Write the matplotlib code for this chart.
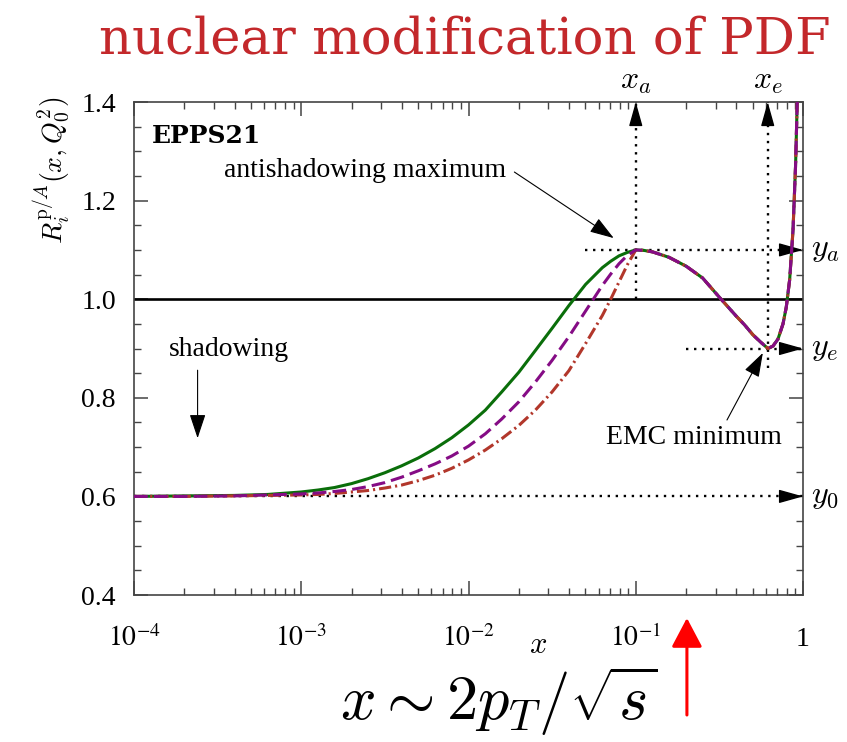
import matplotlib
matplotlib.use("Agg")
import matplotlib.pyplot as plt
from matplotlib.ticker import NullFormatter, FixedLocator
from matplotlib.patches import FancyArrowPatch

plt.rcParams['font.family'] = ['Liberation Serif', 'DejaVu Serif']
plt.rcParams['mathtext.fontset'] = 'stix'

# curves, shared x grid up to the antishadowing peak
x_rise = [1e-4, 2.0e-4, 3.98e-4, 6.31e-4, 1e-3, 1.26e-3, 1.58e-3, 2.0e-3, 2.51e-3,
          3.16e-3, 3.98e-3, 5.01e-3, 6.31e-3, 7.94e-3, 0.01, 0.0126, 0.0158, 0.02,
          0.0251, 0.0316, 0.0398, 0.0501, 0.0631, 0.0708, 0.0794, 0.0891, 0.1]
green_y = [0.600, 0.601, 0.602, 0.604, 0.609, 0.613, 0.618, 0.626, 0.636,
           0.648, 0.662, 0.678, 0.697, 0.719, 0.745, 0.775, 0.812, 0.852,
           0.896, 0.941, 0.987, 1.030, 1.064, 1.077, 1.088, 1.095, 1.100]
purple_y = [0.600, 0.600, 0.601, 0.603, 0.605, 0.607, 0.610, 0.614, 0.620,
            0.628, 0.639, 0.652, 0.666, 0.682, 0.702, 0.727, 0.757, 0.792,
            0.832, 0.876, 0.924, 0.976, 1.028, 1.051, 1.072, 1.089, 1.100]
brown_y = [0.600, 0.600, 0.601, 0.602, 0.603, 0.604, 0.606, 0.609, 0.612,
           0.617, 0.623, 0.632, 0.643, 0.657, 0.674, 0.694, 0.717, 0.744,
           0.775, 0.812, 0.855, 0.910, 0.967, 1.000, 1.035, 1.070, 1.100]

# common part beyond the peak (all three curves coincide)
tail_x = [0.112, 0.126, 0.158, 0.200, 0.251, 0.316, 0.398, 0.447, 0.501, 0.562,
          0.617, 0.661, 0.708, 0.759, 0.794, 0.832, 0.871, 0.902, 0.923, 0.944]
tail_y = [1.099, 1.096, 1.085, 1.067, 1.043, 1.004, 0.966, 0.948, 0.928, 0.912,
          0.900, 0.905, 0.919, 0.950, 0.984, 1.040, 1.140, 1.270, 1.400, 1.560]

# parameter markers
xa, ya = 0.1, 1.1
xe, ye = 0.615, 0.9
y0 = 0.6

xticks = [1e-4, 1e-3, 1e-2, 1e-1, 1]
xticklabels = [r'$10^{-4}$', r'$10^{-3}$', r'$10^{-2}$', r'$10^{-1}$', '1']
yticks = [0.4, 0.6, 0.8, 1.0, 1.2, 1.4]
yticklabels = ['0.4', '0.6', '0.8', '1.0', '1.2', '1.4']

fig = plt.figure(figsize=(8.47, 7.42), dpi=100)
ax = fig.add_axes([0.1582, 0.1981, 0.7899, 0.6644])
ax.set_xscale('log')
ax.set_xlim(1e-4, 1)
ax.set_ylim(0.4, 1.4)

ax.axhline(1.0, color='black', lw=1.9, zorder=2)

ax.plot(x_rise + tail_x, green_y + tail_y, color='#0a6e0a', lw=2.2, zorder=3)
ax.plot(x_rise + tail_x, brown_y + tail_y, color='#b2372b', lw=2.2,
        linestyle=(0, (4, 1.3, 0.7, 1.3)), zorder=4)
ax.plot(x_rise + tail_x, purple_y + tail_y, color='#850c85', lw=2.2,
        linestyle=(0, (4.5, 2)), zorder=5)

# dotted guide lines
dot = dict(color='black', lw=1.7, linestyle=(0, (1, 2.4)), zorder=2)
ax.plot([xa, xa], [1.0, 1.4], **dot)
ax.plot([xe, xe], [0.86, 1.4], **dot)
ax.plot([0.05, 1], [ya, ya], **dot)
ax.plot([0.2, 1], [ye, ye], **dot)
ax.plot([1e-4, 1], [y0, y0], **dot)

head = dict(arrowstyle='-|>,head_length=1.5,head_width=0.42', color='black',
            lw=1.0, shrinkA=0, shrinkB=0, mutation_scale=10)
for xv in [xa, xe]:
    ax.annotate('', xy=(xv, 1.4), xytext=(xv, 1.37), arrowprops=head,
                annotation_clip=False)
for yv in [ya, ye, y0]:
    ax.annotate('', xy=(1, yv), xytext=(0.93, yv), arrowprops=head,
                annotation_clip=False)

lbl = dict(fontsize=23, math_fontfamily='cm')
ax.text(xa, 1.042, r'$x_a$', transform=ax.get_xaxis_transform(), ha='center', va='center', **lbl)
ax.text(xe, 1.042, r'$x_e$', transform=ax.get_xaxis_transform(), ha='center', va='center', **lbl)
ax.text(1.012, ya, r'$y_a$', transform=ax.get_yaxis_transform(), ha='left', va='center', **lbl)
ax.text(1.012, ye, r'$y_e$', transform=ax.get_yaxis_transform(), ha='left', va='center', **lbl)
ax.text(1.012, y0, r'$y_0$', transform=ax.get_yaxis_transform(), ha='left', va='center', **lbl)

# text annotations
thin = dict(arrowstyle='-|>,head_length=1.5,head_width=0.5', color='black',
            lw=0.8, shrinkA=0, shrinkB=0, mutation_scale=10)
ax.text(0.027, 0.931, 'EPPS21', transform=ax.transAxes, fontsize=18,
        fontweight='bold', family='DejaVu Serif', va='center')
ax.text(0.556, 0.862, 'antishadowing maximum', transform=ax.transAxes,
        fontsize=20, ha='right', va='center')
ax.annotate('', xy=(0.0738, 1.124), xytext=(0.0188, 1.258), arrowprops=thin)
ax.text(0.837, 0.320, 'EMC minimum', transform=ax.transAxes,
        fontsize=20, ha='center', va='center')
ax.annotate('', xy=(0.575, 0.891), xytext=(0.351, 0.755), arrowprops=thin)
ax.text(0.052, 0.497, 'shadowing', transform=ax.transAxes,
        fontsize=20, ha='left', va='center')
ax.annotate('', xy=(2.4e-4, 0.718), xytext=(2.4e-4, 0.856), arrowprops=thin)

# axes styling
ax.set_xticks(xticks)
ax.set_xticklabels(xticklabels)
ax.xaxis.set_minor_formatter(NullFormatter())
ax.set_yticks(yticks)
ax.set_yticklabels(yticklabels)
ax.yaxis.set_minor_locator(FixedLocator([0.45 + 0.05 * i for i in range(19)]))
for s in ax.spines.values():
    s.set_color('#444444')
    s.set_linewidth(1.2)
ax.tick_params(which='both', direction='in', top=True, right=True, colors='#444444',
               labelcolor='black', labelsize=20)
ax.tick_params(which='major', length=10, width=1.1)
ax.tick_params(which='minor', length=5, width=1.0)
ax.tick_params(axis='y', pad=13)
ax.tick_params(axis='x', pad=37)
for t in ax.get_xticklabels():
    t.set_va('baseline')

ax.text(0.604, -0.103, r'$x$', transform=ax.transAxes, ha='center', va='center',
        fontsize=22, math_fontfamily='cm')
fig.text(0.062, 0.77, r'$R_i^{\mathrm{p}/A}(x,Q_0^2)$', rotation=90, ha='center',
         va='center', fontsize=20, math_fontfamily='cm')

fig.text(0.549, 0.946, 'nuclear modification of PDF', color='#c3282b',
         family='DejaVu Serif', fontsize=37, ha='center', va='center')
fig.text(0.589, 0.029, r'$x \sim 2p_T/\sqrt{s}$', fontsize=45, math_fontfamily='cm',
         ha='center', va='baseline')
fig.add_artist(FancyArrowPatch((0.811, 0.0364), (0.811, 0.1671), transform=fig.transFigure,
                               arrowstyle='-|>,head_length=1.8,head_width=0.95',
                               color='red', lw=2.2, mutation_scale=10,
                               shrinkA=0, shrinkB=0))

fig.savefig('out.png', dpi=100)
